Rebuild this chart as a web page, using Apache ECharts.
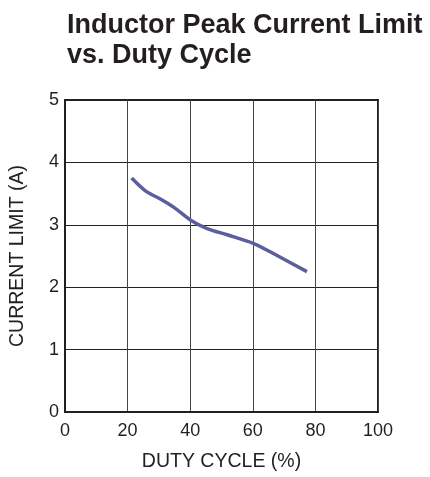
<!DOCTYPE html>
<html><head><meta charset="utf-8">
<script src="https://cdn.jsdelivr.net/npm/echarts@6/dist/echarts.min.js"></script>
<style>html,body{margin:0;padding:0;background:#fff}#c{width:430px;height:477px}</style>
</head><body><div id="c"></div>
<script>
const dutyCycle = [21.3, 25.8, 30.6, 34.8, 40.3, 45.4, 51.8, 60.3, 68.8, 77.3];
const currentLimit = [3.75, 3.54, 3.41, 3.28, 3.07, 2.94, 2.84, 2.70, 2.48, 2.25];
const xTicks = [0, 20, 40, 60, 80, 100];
const yTicks = [0, 1, 2, 3, 4, 5];
const titleLines = ['Inductor Peak Current Limit', 'vs. Duty Cycle'];

const chart = echarts.init(document.getElementById('c'), null, {renderer: 'canvas'});
const font = 'Liberation Sans, Arial, sans-serif';
chart.setOption({
  animation: false,
  backgroundColor: '#fff',
  title: {
    text: titleLines.join('\n'),
    left: 62, top: 6,
    textStyle: {fontFamily: font, fontWeight: 'bold', fontSize: 27, lineHeight: 30, color: '#231f20'}
  },
  grid: {left: 64, top: 100, width: 314, height: 312, show: true, borderColor: '#231f20', borderWidth: 2, backgroundColor: 'transparent'},
  xAxis: {
    type: 'value', min: xTicks[0], max: xTicks[xTicks.length-1], interval: 20,
    name: 'DUTY CYCLE (%)', nameLocation: 'middle', nameGap: 40,
    nameTextStyle: {fontFamily: font, fontSize: 19.5, color: '#231f20'},
    axisLine: {show: true, lineStyle: {color: '#231f20', width: 2}},
    axisTick: {show: false},
    axisLabel: {fontFamily: font, fontSize: 18, color: '#231f20', margin: 10},
    splitLine: {show: true, lineStyle: {color: '#444', width: 1}}
  },
  yAxis: {
    type: 'value', min: yTicks[0], max: yTicks[yTicks.length-1], interval: 1,
    name: 'CURRENT LIMIT (A)', nameLocation: 'middle', nameGap: 37, nameRotate: 90,
    nameTextStyle: {fontFamily: font, fontSize: 19.5, color: '#231f20'},
    axisLine: {show: true, lineStyle: {color: '#231f20', width: 2}},
    axisTick: {show: false},
    axisLabel: {fontFamily: font, fontSize: 18, color: '#231f20', margin: 6},
    splitLine: {show: true, lineStyle: {color: '#222', width: 1}}
  },
  series: [{
    type: 'line', smooth: 0.3, showSymbol: false,
    data: dutyCycle.map((x, i) => [x, currentLimit[i]]),
    lineStyle: {color: '#5b5f9c', width: 3.5}
  }]
});
</script></body></html>
